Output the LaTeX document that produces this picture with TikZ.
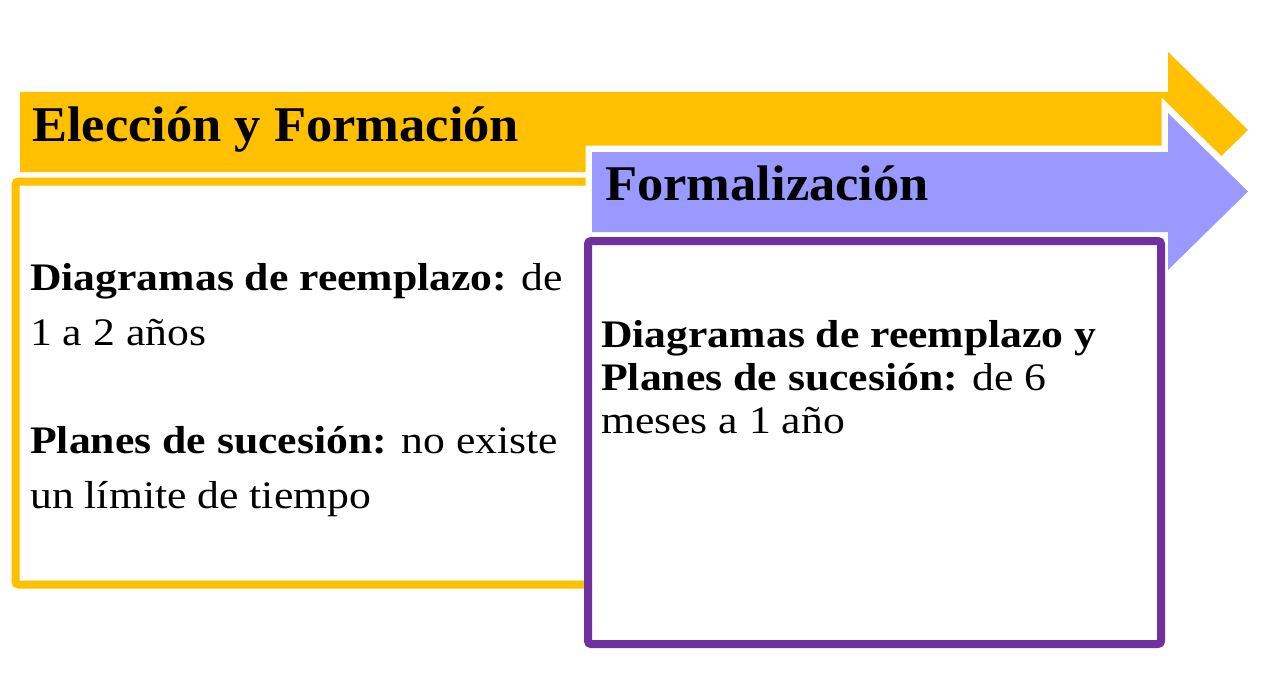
\documentclass[tikz,border=0pt]{standalone}
\usepackage{fontspec}
\setmainfont{Liberation Serif}
\newfontfamily\titlefont[FakeStretch=1.05]{Liberation Serif}
\newfontfamily\bodyfont[FakeStretch=1.12]{Liberation Serif}
\definecolor{arrowyellow}{HTML}{FFC000}
\definecolor{arrowlavender}{HTML}{9999FF}
\definecolor{boxpurple}{HTML}{7030A0}
\begin{document}
\begin{tikzpicture}[x=1pt,y=-1pt,
  titletext/.style={anchor=base west, inner sep=0pt, font=\titlefont\bfseries\fontsize{50}{60}\selectfont},
  bodytext/.style={anchor=base west, inner sep=0pt, font=\bodyfont\fontsize{39}{47}\selectfont},
  framebox/.style={line width=8pt, fill=white, rounded corners=3pt}]
\useasboundingbox (0,0) rectangle (1262,685);
\fill[white] (0,0) rectangle (1262,685);
% yellow arrow
\fill[arrowyellow] (20,92) -- (1168,92) -- (1168,52) -- (1248,130) -- (1168,208) -- (1168,172) -- (20,172) -- cycle;
% yellow box
\draw[framebox, draw=arrowyellow] (15.5,181.5) rectangle (900,584.5);
% lavender arrow with white outline
\draw[white, line width=13pt] (592,152) -- (1168,152) -- (1168,113) -- (1248,191.5) -- (1168,270) -- (1168,232) -- (592,232) -- cycle;
\fill[arrowlavender] (592,152) -- (1168,152) -- (1168,113) -- (1248,191.5) -- (1168,270) -- (1168,232) -- (592,232) -- cycle;
% purple box
\draw[framebox, draw=boxpurple] (588,241) rectangle (1161,644);
% texts
\node[titletext] (t1) at (32,141) {Elección y Formación};
\node[titletext] (t2) at (605,200) {Formalización};
\node[bodytext] (l1) at (30,290) {\textbf{Diagramas de reemplazo:} de};
\node[bodytext] (l2) at (30,345) {1 a 2 años};
\node[bodytext] (l3) at (30,453) {\textbf{Planes de sucesión:} no existe};
\node[bodytext] (l4) at (30,508) {un límite de tiempo};
\node[bodytext] (r1) at (601,347) {\textbf{Diagramas de reemplazo y}};
\node[bodytext] (r2) at (601,390) {\textbf{Planes de sucesión:} de 6};
\node[bodytext] (r3) at (601,433) {meses a 1 año};
\end{tikzpicture}
\end{document}
